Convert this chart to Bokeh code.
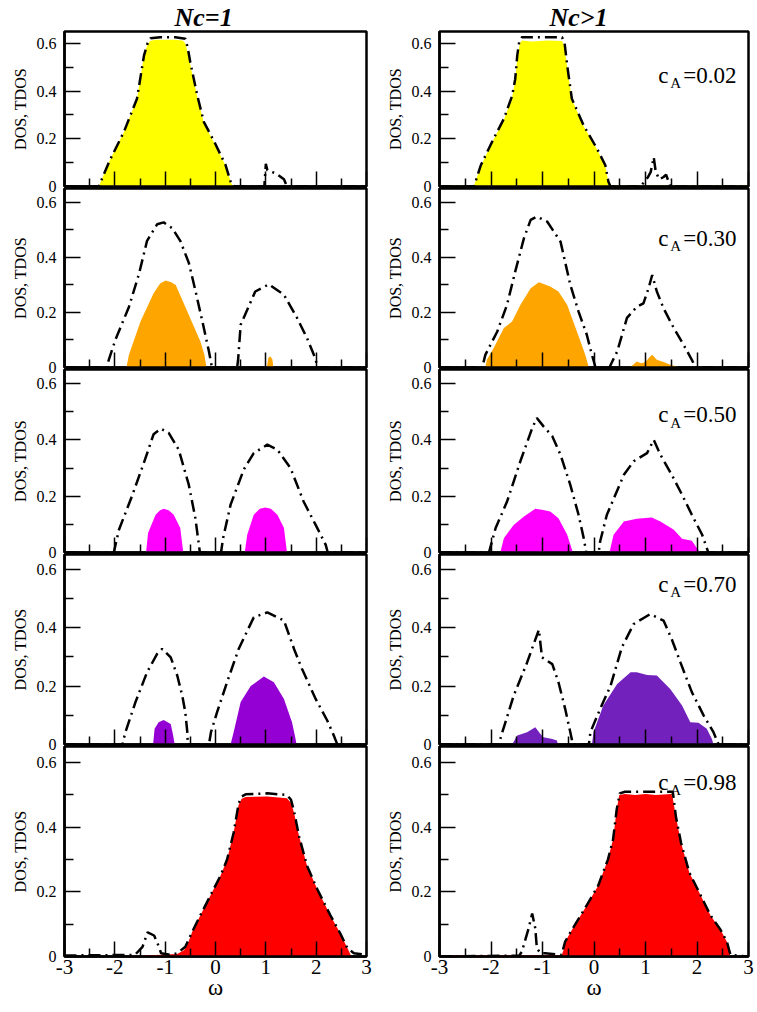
from bokeh.plotting import figure
from bokeh.layouts import column, row
from bokeh.models import FixedTicker, Label
from bokeh.embed import file_html
from bokeh.resources import INLINE

FONT = "Liberation Serif"

# ---------------- data ----------------
column_titles = ["Nc=1", "Nc>1"]
concentrations = ["0.02", "0.30", "0.50", "0.70", "0.98"]
x_ticks = [-3, -2, -1, 0, 1, 2, 3]
x_minor = [-2.5, -1.5, -0.5, 0.5, 1.5, 2.5]
y_ticks = [0, 0.2, 0.4, 0.6]
y_minor = [0.1, 0.3, 0.5]
y_tick_labels = ["0", "0.2", "0.4", "0.6"]
x_tick_labels = ["-3", "-2", "-1", "0", "1", "2", "3"]

# Nc=1, cA=0.02
nc1_002_dos_x = [-3.0, -2.4, -2.32, -2.1, -1.82, -1.56, -1.42, -1.35, -1.29, -1.1, -0.8, -0.6, -0.55, -0.5, -0.36, -0.23, -0.03, 0.2, 0.3, 0.34, 0.4, 0.97, 1.0, 1.03, 1.2, 1.36, 1.42, 3.0]
nc1_002_dos = [0, 0, 0.0, 0.11, 0.229, 0.368, 0.55, 0.6, 0.622, 0.626, 0.626, 0.62, 0.58, 0.52, 0.38, 0.27, 0.19, 0.09, 0.02, 0.005, 0, 0, 0.095, 0.068, 0.055, 0.03, 0, 0]
nc1_002_tdos_x = [-3.0, -2.35, -2.32, -2.1, -1.82, -1.56, -1.42, -1.35, -1.3, -1.2, -0.8, -0.65, -0.6, -0.55, -0.5, -0.36, -0.23, -0.03, 0.2, 0.3, 0.34, 0.4, 3.0]
nc1_002_tdos = [0, 0, 0.0, 0.11, 0.229, 0.368, 0.55, 0.595, 0.61, 0.615, 0.615, 0.612, 0.60, 0.56, 0.51, 0.375, 0.265, 0.185, 0.088, 0.02, 0.004, 0, 0]

# Nc>1, cA=0.02
ncx_002_dos_x = [-3.0, -2.38, -2.33, -2.2, -1.95, -1.75, -1.59, -1.53, -1.49, -1.45, -1.4, -1.0, -0.62, -0.57, -0.52, -0.43, -0.2, 0.06, 0.22, 0.28, 0.32, 0.9, 0.98, 1.05, 1.1, 1.16, 1.2, 1.27, 1.35, 1.4, 1.48, 3.0]
ncx_002_dos = [0, 0, 0.0, 0.088, 0.2, 0.284, 0.38, 0.45, 0.55, 0.61, 0.626, 0.626, 0.626, 0.6, 0.507, 0.368, 0.256, 0.158, 0.089, 0.02, 0, 0, 0.02, 0.04, 0.06, 0.123, 0.06, 0.03, 0.04, 0.05, 0, 0]
ncx_002_tdos_x = [-3.0, -2.33, -2.2, -1.95, -1.75, -1.59, -1.53, -1.49, -1.44, -1.4, -1.2, -0.9, -0.62, -0.58, -0.52, -0.43, -0.2, 0.06, 0.22, 0.28, 0.32, 3.0]
ncx_002_tdos = [0.003, 0.003, 0.085, 0.197, 0.28, 0.375, 0.445, 0.54, 0.6, 0.612, 0.608, 0.612, 0.61, 0.59, 0.5, 0.365, 0.253, 0.155, 0.086, 0.018, 0.003, 0.003]

# Nc=1, cA=0.30
nc1_030_dos_x = [-3.0, -2.17, -1.99, -1.72, -1.52, -1.36, -1.16, -1.03, -0.86, -0.70, -0.53, -0.40, -0.26, -0.13, -0.07, 0.43, 0.45, 0.50, 0.79, 1.06, 1.36, 1.62, 1.82, 1.99, 2.02, 3.0]
nc1_030_dos = [0, 0, 0.10, 0.22, 0.34, 0.46, 0.52, 0.527, 0.506, 0.46, 0.38, 0.28, 0.167, 0.058, 0, 0, 0.03, 0.155, 0.276, 0.302, 0.264, 0.18, 0.106, 0.03, 0, 0]
nc1_030_tdos_x = [-3.0, -1.77, -1.72, -1.49, -1.23, -1.10, -0.99, -0.88, -0.79, -0.56, -0.30, -0.22, -0.18, 1.02, 1.05, 1.09, 1.13, 1.15, 3.0]
nc1_030_tdos = [0, 0, 0.046, 0.167, 0.27, 0.305, 0.316, 0.31, 0.30, 0.203, 0.094, 0.046, 0, 0, 0.035, 0.04, 0.03, 0, 0]

# Nc>1, cA=0.30
ncx_030_dos_x = [-3.0, -2.17, -2.11, -1.88, -1.69, -1.53, -1.36, -1.23, -1.11, -0.91, -0.65, -0.46, -0.30, -0.14, -0.04, 0.03, 0.30, 0.35, 0.45, 0.64, 0.83, 0.96, 1.06, 1.13, 1.22, 1.35, 1.55, 1.74, 1.90, 1.97, 3.0]
ncx_030_dos = [0, 0, 0.046, 0.13, 0.227, 0.348, 0.47, 0.536, 0.548, 0.53, 0.457, 0.30, 0.203, 0.119, 0.046, 0, 0, 0.02, 0.058, 0.18, 0.22, 0.233, 0.288, 0.336, 0.276, 0.215, 0.143, 0.082, 0.028, 0, 0]
ncx_030_tdos_x = [-3.0, -2.11, -2.08, -1.95, -1.75, -1.59, -1.43, -1.23, -1.07, -0.85, -0.69, -0.52, -0.33, -0.17, -0.10, 0.70, 0.83, 0.92, 1.0, 1.06, 1.13, 1.22, 1.35, 1.48, 1.67, 3.0]
ncx_030_tdos = [0, 0, 0.028, 0.07, 0.143, 0.167, 0.227, 0.288, 0.31, 0.294, 0.276, 0.227, 0.13, 0.046, 0, 0, 0.022, 0.015, 0.02, 0.034, 0.046, 0.028, 0.02, 0.01, 0, 0]

# Nc=1, cA=0.50
nc1_050_dos_x = [-3.0, -2.02, -1.92, -1.66, -1.42, -1.23, -1.09, -0.93, -0.73, -0.53, -0.40, -0.33, -0.31, 0.11, 0.15, 0.30, 0.56, 0.76, 1.03, 1.23, 1.49, 1.75, 1.99, 2.19, 2.23, 3.0]
nc1_050_dos = [0, 0, 0.08, 0.20, 0.32, 0.42, 0.44, 0.425, 0.365, 0.24, 0.122, 0.027, 0, 0, 0.05, 0.17, 0.294, 0.353, 0.383, 0.365, 0.30, 0.181, 0.098, 0.027, 0, 0]
nc1_050_tdos_x = [-3.0, -1.38, -1.34, -1.19, -1.10, -1.03, -0.93, -0.83, -0.70, -0.64, 0.58, 0.63, 0.76, 0.88, 0.99, 1.10, 1.23, 1.36, 1.42, 3.0]
nc1_050_tdos = [0, 0, 0.069, 0.134, 0.15, 0.155, 0.15, 0.134, 0.087, 0, 0, 0.063, 0.134, 0.155, 0.16, 0.155, 0.134, 0.087, 0, 0]

# Nc>1, cA=0.50
ncx_050_dos_x = [-3.0, -2.04, -1.91, -1.69, -1.43, -1.20, -1.11, -0.98, -0.81, -0.65, -0.46, -0.30, -0.20, -0.15, 0.09, 0.12, 0.25, 0.58, 0.77, 1.03, 1.16, 1.29, 1.51, 1.71, 1.90, 2.10, 2.22, 3.0]
ncx_050_dos = [0, 0, 0.087, 0.18, 0.324, 0.442, 0.478, 0.448, 0.413, 0.347, 0.24, 0.134, 0.051, 0, 0, 0.04, 0.134, 0.276, 0.324, 0.353, 0.40, 0.347, 0.276, 0.205, 0.134, 0.063, 0, 0]
ncx_050_tdos_x = [-3.0, -1.82, -1.75, -1.56, -1.36, -1.14, -1.01, -0.85, -0.69, -0.52, -0.41, 0.30, 0.38, 0.58, 0.83, 1.12, 1.29, 1.55, 1.71, 1.90, 2.0, 2.06, 3.0]
ncx_050_tdos = [0, 0, 0.051, 0.098, 0.128, 0.155, 0.152, 0.146, 0.122, 0.063, 0, 0, 0.063, 0.11, 0.12, 0.124, 0.11, 0.081, 0.049, 0.042, 0.015, 0, 0]

# Nc=1, cA=0.70
nc1_070_dos_x = [-3.0, -1.85, -1.79, -1.59, -1.36, -1.16, -1.06, -0.89, -0.76, -0.66, -0.60, -0.56, -0.55, -0.13, -0.09, 0.03, 0.23, 0.46, 0.76, 1.03, 1.36, 1.56, 1.72, 1.99, 2.22, 2.35, 2.42, 3.0]
nc1_070_dos = [0, 0, 0.042, 0.145, 0.247, 0.31, 0.327, 0.298, 0.236, 0.167, 0.11, 0.042, 0, 0, 0.042, 0.11, 0.213, 0.327, 0.435, 0.452, 0.424, 0.327, 0.258, 0.156, 0.082, 0.031, 0, 0]
nc1_070_tdos_x = [-3.0, -1.24, -1.21, -1.13, -1.03, -0.89, -0.84, -0.81, 0.30, 0.36, 0.50, 0.70, 0.96, 1.16, 1.36, 1.52, 1.59, 1.61, 3.0]
nc1_070_tdos = [0, 0, 0.054, 0.076, 0.084, 0.07, 0.03, 0, 0, 0.042, 0.145, 0.20, 0.233, 0.213, 0.156, 0.076, 0.02, 0, 0]

# Nc>1, cA=0.70
ncx_070_dos_x = [-3.0, -1.85, -1.78, -1.56, -1.30, -1.17, -1.07, -1.01, -0.81, -0.69, -0.56, -0.46, -0.41, -0.10, -0.07, 0.12, 0.32, 0.54, 0.77, 1.09, 1.35, 1.51, 1.68, 1.90, 2.13, 2.32, 2.42, 3.0]
ncx_070_dos = [0, 0, 0.042, 0.167, 0.28, 0.344, 0.393, 0.298, 0.275, 0.213, 0.122, 0.042, 0, 0, 0.042, 0.122, 0.20, 0.332, 0.412, 0.446, 0.424, 0.36, 0.28, 0.179, 0.099, 0.042, 0, 0]
ncx_070_tdos_x = [-3.0, -1.59, -1.49, -1.30, -1.14, -1.04, -0.98, -0.81, -0.72, -0.70, -0.04, -0.01, 0.18, 0.45, 0.71, 0.83, 1.03, 1.22, 1.48, 1.71, 1.87, 2.03, 2.19, 2.29, 2.32, 3.0]
ncx_070_tdos = [0, 0, 0.031, 0.042, 0.059, 0.036, 0.025, 0.019, 0.014, 0, 0, 0.042, 0.133, 0.207, 0.247, 0.247, 0.238, 0.236, 0.19, 0.133, 0.076, 0.074, 0.054, 0.019, 0, 0]

# Nc=1, cA=0.98
nc1_098_dos_x = [-3.0, -1.6, -1.45, -1.35, -1.22, -1.15, -1.08, -0.9, -0.76, -0.60, -0.46, -0.30, -0.10, 0.10, 0.23, 0.36, 0.46, 0.52, 0.60, 1.03, 1.42, 1.5, 1.56, 1.66, 1.82, 2.02, 2.28, 2.48, 2.62, 2.75, 3.0]
nc1_098_dos = [0.003, 0.005, 0.03, 0.075, 0.065, 0.04, 0.01, 0.005, 0.01, 0.03, 0.077, 0.128, 0.189, 0.25, 0.30, 0.383, 0.474, 0.495, 0.502, 0.505, 0.5, 0.485, 0.45, 0.372, 0.28, 0.209, 0.128, 0.071, 0.026, 0.01, 0.005]
nc1_098_tdos_x = [-3.0, -1.5, -0.76, -0.62, -0.55, -0.46, -0.30, -0.10, 0.10, 0.23, 0.36, 0.46, 0.52, 0.60, 1.03, 1.42, 1.5, 1.56, 1.66, 1.82, 2.02, 2.28, 2.48, 2.62, 2.7, 3.0]
nc1_098_tdos = [0, 0.002, 0.008, 0.02, 0.04, 0.077, 0.128, 0.189, 0.25, 0.30, 0.383, 0.47, 0.488, 0.494, 0.495, 0.49, 0.475, 0.445, 0.372, 0.28, 0.209, 0.128, 0.071, 0.026, 0, 0]

# Nc>1, cA=0.98
ncx_098_dos_x = [-3.0, -1.45, -1.40, -1.27, -1.20, -1.14, -1.11, -1.04, -0.95, -0.63, -0.56, -0.43, -0.18, 0.08, 0.27, 0.37, 0.44, 0.50, 0.6, 1.0, 1.53, 1.59, 1.69, 1.85, 2.01, 2.26, 2.46, 2.58, 2.65, 3.0]
ncx_098_dos = [0, 0.003, 0.015, 0.087, 0.133, 0.087, 0.026, 0.01, 0.01, 0.005, 0.046, 0.082, 0.148, 0.219, 0.30, 0.362, 0.454, 0.505, 0.51, 0.51, 0.51, 0.433, 0.352, 0.26, 0.209, 0.128, 0.082, 0.046, 0.005, 0]
ncx_098_tdos_x = [-3.0, -0.63, -0.59, -0.56, -0.43, -0.18, 0.08, 0.27, 0.37, 0.44, 0.49, 0.6, 0.8, 1.0, 1.2, 1.5, 1.53, 1.59, 1.69, 1.85, 2.01, 2.26, 2.46, 2.58, 2.65, 3.0]
ncx_098_tdos = [0.003, 0.003, 0.02, 0.046, 0.082, 0.148, 0.219, 0.30, 0.362, 0.454, 0.5, 0.503, 0.5, 0.503, 0.5, 0.503, 0.49, 0.433, 0.352, 0.26, 0.209, 0.128, 0.082, 0.046, 0.0, 0.0]

# ---------------- styles / layout ----------------
fill_colors = [["#FFFF00", "#FFFF00"], ["#FFA500", "#FFA500"], ["#FF00FF", "#FF00FF"],
               ["#9400D3", "#7221BC"], ["#FF0000", "#FF0000"]]
frame_heights = [155, 179, 183, 190, 210]
label_y = [0.466, 0.469, 0.49, 0.549, 0.54]

panels = [
    [(nc1_002_dos_x, nc1_002_dos, nc1_002_tdos_x, nc1_002_tdos), (ncx_002_dos_x, ncx_002_dos, ncx_002_tdos_x, ncx_002_tdos)],
    [(nc1_030_dos_x, nc1_030_dos, nc1_030_tdos_x, nc1_030_tdos), (ncx_030_dos_x, ncx_030_dos, ncx_030_tdos_x, ncx_030_tdos)],
    [(nc1_050_dos_x, nc1_050_dos, nc1_050_tdos_x, nc1_050_tdos), (ncx_050_dos_x, ncx_050_dos, ncx_050_tdos_x, ncx_050_tdos)],
    [(nc1_070_dos_x, nc1_070_dos, nc1_070_tdos_x, nc1_070_tdos), (ncx_070_dos_x, ncx_070_dos, ncx_070_tdos_x, ncx_070_tdos)],
    [(nc1_098_dos_x, nc1_098_dos, nc1_098_tdos_x, nc1_098_tdos), (ncx_098_dos_x, ncx_098_dos, ncx_098_tdos_x, ncx_098_tdos)],
]

N_ROWS = len(panels)


def make_panel(r, c):
    dx, dy, tx, ty = panels[r][c]
    top = (r == 0)
    bottom = (r == N_ROWS - 1)
    p = figure(
        frame_width=302 if c == 0 else 309,
        frame_height=frame_heights[r],
        x_range=(-3, 3), y_range=(0, 0.65),
        output_backend="svg", toolbar_location=None,
        min_border_left=64 if c == 0 else 60,
        min_border_right=13 if c == 0 else 8,
        min_border_top=1 if top else 10,
        min_border_bottom=1 if bottom else 9,
        background_fill_color="white", border_fill_color=None,
    )
    if top:
        p.title.text = column_titles[c]
        p.title.text_font = FONT
        p.title.text_font_style = "bold italic"
        p.title.text_font_size = "26px"
        p.title.align = "left"
        p.title.offset = 110
        p.title.standoff = 0
        p.title.text_color = "black"
    p.xgrid.visible = False
    p.ygrid.visible = False
    p.outline_line_color = "black"
    p.outline_line_width = 2.5
    p.outline_line_alpha = 1.0

    p.varea(x=tx, y1=0, y2=ty, fill_color=fill_colors[r][c], fill_alpha=1.0)
    p.line(dx, dy, line_color="black", line_width=2.5, line_dash="12 5 2 5")

    xa = p.xaxis[0]
    xa.ticker = FixedTicker(ticks=x_ticks, minor_ticks=x_minor)
    xa.major_label_overrides = {t: s for t, s in zip(x_ticks, x_tick_labels)}
    xa.major_tick_in = 15
    xa.major_tick_out = 0
    xa.minor_tick_in = 8
    xa.minor_tick_out = 0
    xa.axis_line_width = 2.5
    xa.major_tick_line_width = 1.5
    xa.minor_tick_line_width = 1.5
    if bottom:
        xa.major_label_text_font = FONT
        xa.major_label_text_font_size = "21px"
        xa.major_label_text_color = "black"
        xa.major_label_standoff = 3
        xa.axis_label = "ω"
        xa.axis_label_text_font = FONT
        xa.axis_label_text_font_size = "23px"
        xa.axis_label_text_font_style = "normal"
        xa.axis_label_text_color = "black"
        xa.axis_label_standoff = -2
    else:
        xa.major_label_text_color = None
        xa.major_label_text_font_size = "1px"
        xa.major_label_standoff = 0

    ya = p.yaxis[0]
    ya.ticker = FixedTicker(ticks=y_ticks, minor_ticks=y_minor)
    ya.major_label_overrides = {t: s for t, s in zip(y_ticks, y_tick_labels)}
    ya.major_tick_in = 16
    ya.major_tick_out = 0
    ya.minor_tick_in = 9
    ya.minor_tick_out = 0
    ya.axis_line_width = 2.5
    ya.major_tick_line_width = 1.5
    ya.minor_tick_line_width = 1.5
    ya.major_label_text_font = FONT
    ya.major_label_text_font_size = "16px"
    ya.major_label_text_color = "black"
    ya.major_label_standoff = 8
    ya.axis_label = "DOS, TDOS"
    ya.axis_label_text_font = FONT
    ya.axis_label_text_font_size = "16px"
    ya.axis_label_text_font_style = "normal"
    ya.axis_label_text_color = "black"
    ya.axis_label_standoff = 5

    if c == 1:
        yb = label_y[r]
        p.add_layout(Label(x=1.248, y=yb, text="c", text_font=FONT, text_font_size="23px",
                           text_baseline="alphabetic", text_align="left", text_color="black"))
        p.add_layout(Label(x=1.248, y=yb, x_offset=12, y_offset=-8, text="A", text_font=FONT,
                           text_font_size="15px", text_baseline="alphabetic", text_align="left",
                           text_color="black"))
        p.add_layout(Label(x=1.248, y=yb, x_offset=25, text="=" + concentrations[r], text_font=FONT,
                           text_font_size="23px", text_baseline="alphabetic", text_align="left",
                           text_color="black"))
    return p


rows = []
for r in range(N_ROWS):
    kw = {} if r == N_ROWS - 1 else {"margin": (0, 0, -17, 0)}
    rows.append(row(make_panel(r, 0), make_panel(r, 1), **kw))
layout = column(*rows)

open("out.html", "w").write(file_html(layout, INLINE, "DOS"))
